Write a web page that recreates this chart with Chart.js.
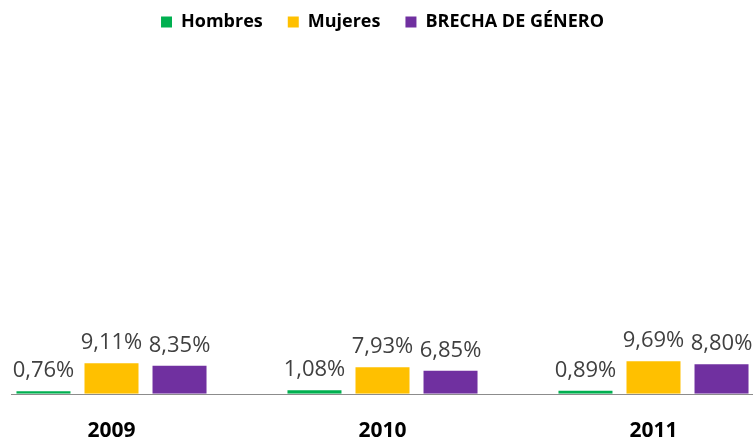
<!DOCTYPE html>
<html>
<head>
<meta charset="utf-8">
<script src="https://cdn.jsdelivr.net/npm/chart.js"></script>
<style>
  html, body { margin: 0; padding: 0; background: #fff; overflow: hidden; }
  /* canvas is larger than the window: the outer categories run off both edges, as in the source */
  #wrap { position: absolute; left: -35px; top: 0; width: 835px; height: 469px; }
</style>
</head>
<body>
<div id="wrap"><canvas id="chart"></canvas></div>
<script>
// Data
const years = ['2009', '2010', '2011'];
const hombres = [0.76, 1.08, 0.89];
const mujeres = [9.11, 7.93, 9.69];
const brecha = [8.35, 6.85, 8.80];

const FONT = '"Open Sans", "Liberation Sans", sans-serif';

function fmt(v) {
    return v.toFixed(2).replace('.', ',') + '%';
}

// Value labels above each bar
const valueLabels = {
    id: 'valueLabels',
    afterDatasetsDraw(chart) {
        const ctx = chart.ctx;
        ctx.save();
        ctx.font = '22px ' + FONT;
        ctx.fillStyle = '#404040';
        ctx.textAlign = 'center';
        ctx.textBaseline = 'alphabetic';
        chart.data.datasets.forEach((ds, i) => {
            chart.getDatasetMeta(i).data.forEach((bar, j) => {
                ctx.fillText(fmt(ds.data[j]), bar.x, bar.y - 14);
            });
        });
        ctx.restore();
    }
};

// Category axis line (starts a little inside the left edge of the window)
const baseline = {
    id: 'baseline',
    afterDatasetsDraw(chart) {
        const ctx = chart.ctx;
        const y = Math.round(chart.scales.y.getPixelForValue(0)) + 0.5;
        ctx.save();
        ctx.strokeStyle = '#8c8c8c';
        ctx.lineWidth = 1;
        ctx.beginPath();
        ctx.moveTo(46, y);
        ctx.lineTo(chart.chartArea.right, y);
        ctx.stroke();
        ctx.restore();
    }
};

// Extra space between the legend and the plot
const legendGap = {
    id: 'legendGap',
    beforeInit(chart) {
        const fit = chart.legend.fit;
        chart.legend.fit = function () {
            fit.call(this);
            this.height += 17;
        };
    }
};

new Chart(document.getElementById('chart'), {
    type: 'bar',
    data: {
        labels: years,
        datasets: [
            { label: 'Hombres', data: hombres, backgroundColor: '#00B050' },
            { label: 'Mujeres', data: mujeres, backgroundColor: '#FFC000' },
            { label: 'BRECHA DE GÉNERO', data: brecha, backgroundColor: '#7030A0' }
        ]
    },
    options: {
        responsive: true,
        maintainAspectRatio: false,
        animation: false,
        categoryPercentage: 0.753,
        barPercentage: 0.794,
        layout: { padding: { left: 11, right: 11, top: -12, bottom: 0 } },
        plugins: {
            legend: {
                position: 'top',
                labels: {
                    boxWidth: 11,
                    boxHeight: 11,
                    padding: 25,
                    color: '#000',
                    font: { family: FONT, size: 18, weight: 'bold' }
                }
            },
            tooltip: { enabled: false }
        },
        scales: {
            x: {
                grid: { display: false, drawTicks: false },
                border: { display: false },
                ticks: {
                    padding: 25,
                    color: '#000',
                    font: { family: FONT, size: 21, weight: 'bold' }
                }
            },
            y: {
                display: false,
                min: 0,
                max: 100
            }
        }
    },
    plugins: [valueLabels, baseline, legendGap]
});
</script>
</body>
</html>
